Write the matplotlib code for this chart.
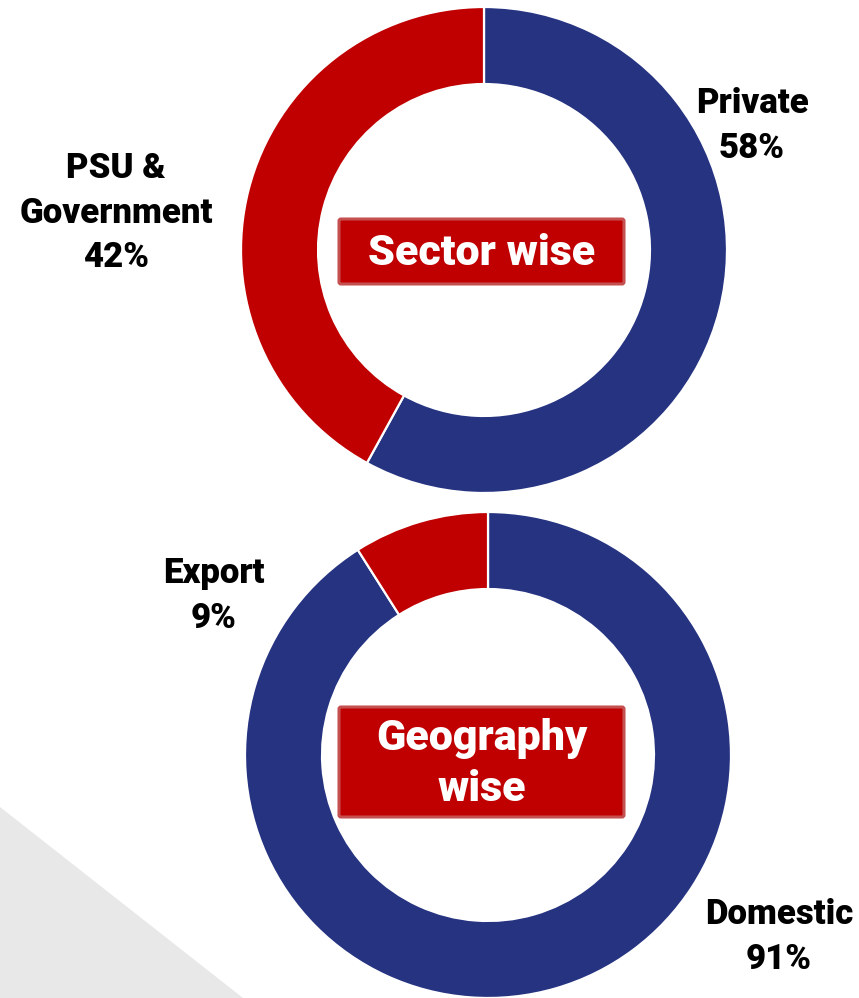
import matplotlib
matplotlib.use("Agg")
import matplotlib.pyplot as plt
from matplotlib.patches import Polygon, FancyBboxPatch

# ---- data ----
sector_labels = ["Private", "PSU &\nGovernment"]
sector_values = [58, 42]
geo_labels = ["Domestic", "Export"]
geo_values = [91, 9]
titles = ["Sector wise", "Geography\nwise"]

BLUE = "#253381"
RED = "#C00000"
BORDER = "#C55050"

W, H = 859, 998
fig = plt.figure(figsize=(W / 100, H / 100), dpi=100)
fig.patch.set_facecolor("white")
plt.rcParams["font.family"] = ["Roboto", "DejaVu Sans"]

# grey background triangle (bottom-left)
bg = fig.add_axes([0, 0, 1, 1], zorder=0)
bg.set_xlim(0, W)
bg.set_ylim(H, 0)
bg.axis("off")
bg.add_patch(Polygon([(0, 807), (243, 998), (0, 998)], closed=True,
                     facecolor="#E8E8E8", edgecolor="none"))


def px_axes(cx, cy, r):
    return fig.add_axes([(cx - r) / W, (H - cy - r) / H, 2 * r / W, 2 * r / H], zorder=1)


def donut(ax, values, colors):
    ax.pie(values, colors=colors, startangle=90, counterclock=False, radius=1.0,
           wedgeprops=dict(width=0.317, edgecolor="white", linewidth=1.6))
    ax.set_xlim(-1, 1)
    ax.set_ylim(-1, 1)
    ax.set_aspect("equal")
    ax.axis("off")


ax1 = px_axes(484, 250, 243)
donut(ax1, sector_values, [BLUE, RED])
ax2 = px_axes(488, 755, 243)
donut(ax2, geo_values, [BLUE, RED])

# overlay for labels / boxes in pixel coordinates
ov = fig.add_axes([0, 0, 1, 1], zorder=3)
ov.set_xlim(0, W)
ov.set_ylim(H, 0)
ov.axis("off")


def box(x0, y0, x1, y1, text, ls):
    ov.add_patch(FancyBboxPatch((x0, y0), x1 - x0, y1 - y0,
                                boxstyle="round,pad=0,rounding_size=2",
                                facecolor=RED, edgecolor=BORDER, linewidth=2.2))
    ov.text((x0 + x1) / 2, (y0 + y1) / 2 + 2, text, color="white", fontsize=31,
            fontweight="heavy", ha="center", va="center", multialignment="center",
            linespacing=ls)


box(339, 219, 624, 284, titles[0], 1.0)
box(339, 707, 624, 817, titles[1], 1.31)

lab_kw = dict(color="black", fontsize=25, fontweight="heavy", ha="center",
              va="center", multialignment="center", linespacing=1.45)
ov.text(752, 126, f"{sector_labels[0]}\n{sector_values[0]}%", **lab_kw)
ov.text(116, 213, f"{sector_labels[1]}\n{sector_values[1]}%", **lab_kw)
ov.text(214, 596, f"{geo_labels[1]}\n{geo_values[1]}%", **lab_kw)
ov.text(779, 937, f"{geo_labels[0]}\n{geo_values[0]}%", **lab_kw)

fig.savefig("out.png", dpi=100)
